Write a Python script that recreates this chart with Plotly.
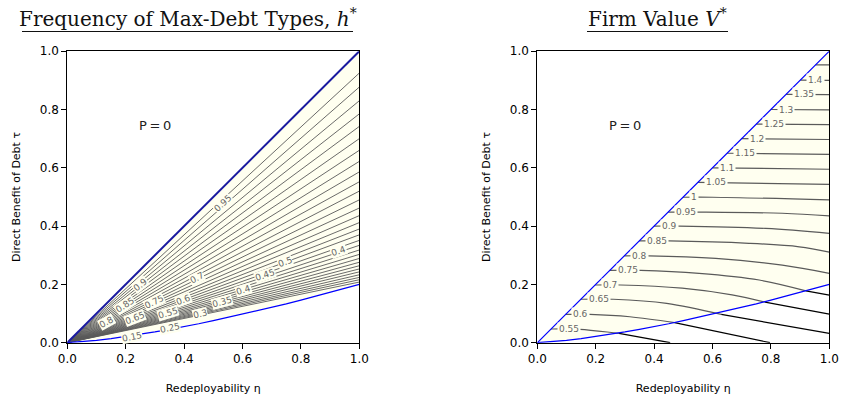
import plotly.graph_objects as go
import math

W, H = 843, 404

def px(x):
    return x / W

def py(y):
    return 1 - y / H

# ---------------- data ----------------
# lower boundary curve (blue)
bound_eta = [0.0, 0.05, 0.1, 0.15, 0.2, 0.25, 0.3, 0.35, 0.4, 0.45, 0.5, 0.55, 0.6,
             0.65, 0.7, 0.75, 0.8, 0.85, 0.9, 0.95, 1.0]
bound_tau = [0.0, 0.003, 0.008, 0.014, 0.021, 0.029, 0.037, 0.046, 0.055, 0.065, 0.076,
             0.087, 0.098, 0.109, 0.121, 0.133, 0.146, 0.159, 0.172, 0.186, 0.2]

# left panel: contour rays of h* from origin, tau at eta = 1
h_ray_tau_end = [0.925, 0.877, 0.83, 0.785, 0.742, 0.70, 0.66, 0.622, 0.586, 0.552,
                 0.52, 0.49, 0.462, 0.436, 0.412, 0.39, 0.37, 0.351, 0.334, 0.318,
                 0.303, 0.289, 0.276, 0.264, 0.253, 0.243, 0.233, 0.224, 0.216, 0.208]
# left panel contour labels
h_lab_text = ["0.95", "0.9", "0.85", "0.8", "0.75", "0.7", "0.65", "0.6", "0.55",
              "0.5", "0.45", "0.4", "0.4", "0.35", "0.3", "0.25", "0.15"]
h_lab_eta = [0.534, 0.249, 0.198, 0.135, 0.297, 0.443, 0.232, 0.397, 0.346,
             0.745, 0.677, 0.603, 0.93, 0.529, 0.455, 0.352, 0.22]
h_lab_tau = [0.478, 0.198, 0.129, 0.072, 0.141, 0.221, 0.084, 0.146, 0.101,
             0.278, 0.232, 0.181, 0.316, 0.141, 0.10, 0.05, 0.02]
h_lab_slope = [0.9, 0.8, 0.66, 0.55, 0.48, 0.5, 0.38, 0.37, 0.3,
               0.37, 0.34, 0.3, 0.34, 0.27, 0.23, 0.21, 0.2]

# right panel: contours of V*
v_levels = ["0.55", "0.6", "0.65", "0.7", "0.75", "0.8", "0.85", "0.9", "0.95", "1",
            "1.05", "1.1", "1.15", "1.2", "1.25", "1.3", "1.35", "1.4", "1.45"]
v_upper_eta = [
    [0.047, 0.146, 0.262, 0.28],
    [0.097, 0.18, 0.317, 0.47],
    [0.149, 0.26, 0.443, 0.63],
    [0.198, 0.285, 0.496, 0.667, 0.78],
    [0.248, 0.354, 0.554, 0.76, 0.92],
    [0.298, 0.382, 0.611, 0.839, 1.0],
    [0.349, 0.451, 0.725, 0.897, 1.0],
    [0.40, 0.486, 0.782, 1.0],
    [0.448, 0.554, 0.839, 1.0],
    [0.499, 0.6, 1.0],
    [0.55, 1.0], [0.60, 1.0], [0.65, 1.0], [0.70, 1.0], [0.75, 1.0],
    [0.80, 1.0], [0.852, 1.0], [0.901, 1.0], [0.953, 1.0],
]
v_upper_tau = [
    [0.047, 0.046, 0.034, 0.032],
    [0.097, 0.097, 0.089, 0.069],
    [0.149, 0.149, 0.135, 0.097],
    [0.198, 0.198, 0.187, 0.164, 0.139],
    [0.248, 0.248, 0.238, 0.215, 0.178],
    [0.298, 0.298, 0.289, 0.266, 0.238],
    [0.349, 0.349, 0.341, 0.329, 0.311],
    [0.40, 0.40, 0.392, 0.375],
    [0.448, 0.448, 0.444, 0.435],
    [0.499, 0.499, 0.49],
    [0.55, 0.543], [0.60, 0.595], [0.65, 0.646], [0.70, 0.697], [0.75, 0.748],
    [0.80, 0.799], [0.852, 0.851], [0.901, 0.90], [0.953, 0.953],
]
v_lower_eta = [[0.28, 0.354, 0.455], [0.47, 0.797], [0.63, 1.0], [0.78, 1.0], [0.92, 1.0]]
v_lower_tau = [[0.032, 0.018, 0.0], [0.069, 0.0], [0.097, 0.032], [0.139, 0.098], [0.178, 0.163]]

x_ticks = [0.0, 0.2, 0.4, 0.6, 0.8, 1.0]
y_ticks = [0.0, 0.2, 0.4, 0.6, 0.8, 1.0]
tick_text = ["0.0", "0.2", "0.4", "0.6", "0.8", "1.0"]

# ---------------- styling ----------------
CREAM = "#fffff0"
GRAY = "#5a5a5a"
LABGRAY = "#666666"
FONT = "DejaVu Sans"

fig = go.Figure()

def shade(xa, ya):
    xs = [0.0, 1.0] + bound_eta[::-1]
    ys = [0.0, 1.0] + bound_tau[::-1]
    fig.add_trace(go.Scatter(x=xs, y=ys, mode="lines", fill="toself", fillcolor=CREAM,
                             line=dict(width=0), xaxis=xa, yaxis=ya,
                             showlegend=False, hoverinfo="skip"))

# left panel
shade("x", "y")
for t in h_ray_tau_end:
    fig.add_trace(go.Scatter(x=[0.0, 1.0], y=[0.0, t], mode="lines",
                             line=dict(color=GRAY, width=0.9), xaxis="x", yaxis="y",
                             showlegend=False, hoverinfo="skip"))
fig.add_trace(go.Scatter(x=[0.0, 1.0], y=[0.0, 1.0], mode="lines",
                         line=dict(color="#1a1aa0", width=2), xaxis="x", yaxis="y",
                         showlegend=False))
fig.add_trace(go.Scatter(x=bound_eta, y=bound_tau, mode="lines",
                         line=dict(color="#0000ff", width=1.2), xaxis="x", yaxis="y",
                         showlegend=False))

# right panel
shade("x2", "y2")
for ex, ty in zip(v_upper_eta, v_upper_tau):
    fig.add_trace(go.Scatter(x=ex, y=ty, mode="lines", line_shape="spline",
                             line=dict(color=GRAY, width=1.2), xaxis="x2", yaxis="y2",
                             showlegend=False, hoverinfo="skip"))
for ex, ty in zip(v_lower_eta, v_lower_tau):
    fig.add_trace(go.Scatter(x=ex, y=ty, mode="lines",
                             line=dict(color="#000000", width=1.2), xaxis="x2", yaxis="y2",
                             showlegend=False, hoverinfo="skip"))
fig.add_trace(go.Scatter(x=[0.0, 1.0], y=[0.0, 1.0], mode="lines",
                         line=dict(color="#0000ff", width=1.2), xaxis="x2", yaxis="y2",
                         showlegend=False))
fig.add_trace(go.Scatter(x=bound_eta, y=bound_tau, mode="lines",
                         line=dict(color="#0000ff", width=1.2), xaxis="x2", yaxis="y2",
                         showlegend=False))

annotations = []
for txt, ex, ty, s in zip(h_lab_text, h_lab_eta, h_lab_tau, h_lab_slope):
    annotations.append(dict(x=ex, y=ty, xref="x", yref="y", text=txt, showarrow=False,
                            textangle=-math.degrees(math.atan(s)),
                            font=dict(family=FONT, size=9, color=LABGRAY),
                            bgcolor=CREAM, borderpad=0))
for lev, ex, ty in zip(v_levels[:-1], v_upper_eta[:-1], v_upper_tau[:-1]):
    annotations.append(dict(x=ex[0] + 0.02, y=ty[0], xref="x2", yref="y2", text=lev,
                            showarrow=False, xanchor="left", yanchor="middle",
                            font=dict(family=FONT, size=9, color=LABGRAY),
                            bgcolor=CREAM, borderpad=1))
for xa, ya in (("x", "y"), ("x2", "y2")):
    annotations.append(dict(x=0.30, y=0.745, xref=xa, yref=ya, text="P\u2009=\u20090",
                            showarrow=False, font=dict(family=FONT, size=13, color="#222")))

# titles
TFONT = dict(family="DejaVu Serif", size=20, color="#111")
annotations.append(dict(x=px(187.5), y=py(17.5), xref="paper", yref="paper",
                        text="Frequency of Max-Debt Types, <i>h</i><sup>*</sup>",
                        showarrow=False, xanchor="center", yanchor="middle", font=TFONT))
annotations.append(dict(x=px(657.5), y=py(17.5), xref="paper", yref="paper",
                        text="Firm Value <i>V</i><sup>*</sup>",
                        showarrow=False, xanchor="center", yanchor="middle", font=TFONT))

shapes = [
    dict(type="line", xref="paper", yref="paper", x0=px(22), x1=px(353),
         y0=py(31.5), y1=py(31.5), line=dict(color="#111", width=1)),
    dict(type="line", xref="paper", yref="paper", x0=px(587), x1=px(728),
         y0=py(31.5), y1=py(31.5), line=dict(color="#111", width=1)),
]

ydom = [py(342.7), py(51.2)]

def xax(dom, anchor):
    return dict(domain=dom, anchor=anchor, range=[0, 1], tickvals=x_ticks, ticktext=tick_text,
                ticks="outside", ticklen=5, tickwidth=1, tickcolor="black", automargin=False,
                showline=True, linecolor="black", linewidth=1, mirror=True,
                showgrid=False, zeroline=False,
                tickfont=dict(family=FONT, size=12, color="black"),
                title=dict(text="Redeployability η", standoff=19,
                           font=dict(family=FONT, size=11, color="black")))

def yax(anchor):
    return dict(domain=ydom, anchor=anchor, range=[0, 1], tickvals=y_ticks, ticktext=tick_text,
                ticks="outside", ticklen=5, tickwidth=1, tickcolor="black", automargin=False,
                showline=True, linecolor="black", linewidth=1, mirror=True,
                showgrid=False, zeroline=False,
                tickfont=dict(family=FONT, size=12, color="black"),
                title=dict(text="Direct Benefit of Debt τ", standoff=16,
                           font=dict(family=FONT, size=11, color="black")))

fig.update_layout(
    width=W, height=H, margin=dict(l=0, r=0, t=0, b=0, autoexpand=False),
    paper_bgcolor="white", plot_bgcolor="white", showlegend=False,
    xaxis=xax([px(67.3), px(359.3)], "y"),
    yaxis=yax("x"),
    xaxis2=xax([px(537.3), px(829.3)], "y2"),
    yaxis2=yax("x2"),
    annotations=annotations, shapes=shapes,
)

fig.write_html("out.html", config={"displayModeBar": False},
               post_script="document.body.style.margin='0';document.body.style.overflow='hidden';")
